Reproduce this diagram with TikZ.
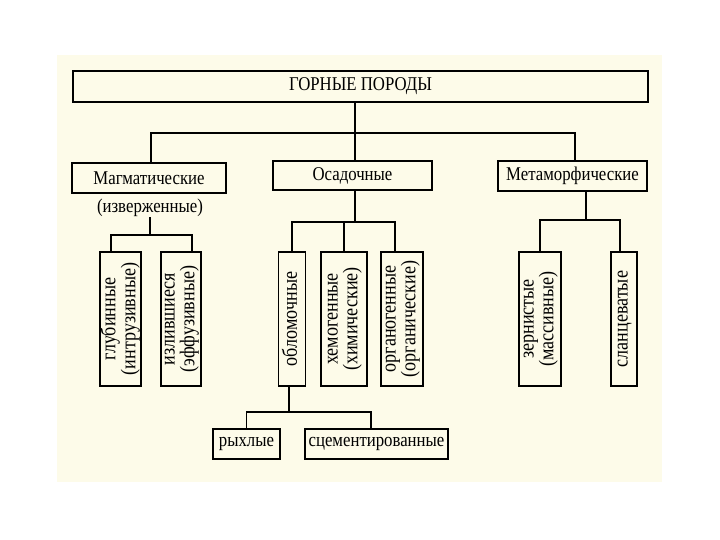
\documentclass[tikz,border=0pt]{standalone}
\usepackage{fontspec}
\setmainfont{Liberation Serif}[FakeStretch=0.86]
\usepackage{graphicx}
\definecolor{paper}{RGB}{253,251,233}
\newcommand{\vlabel}[1]{\rotatebox{90}{\begin{tabular}{@{}c@{}}#1\end{tabular}}}

\begin{document}
\begin{tikzpicture}[x=1pt,y=-1pt,
  box/.style  = {rectangle,draw=black,line width=1.6pt,inner sep=0pt,outer sep=0pt,font=\fontsize{19.5}{19}\selectfont},
  vbox/.style = {box,minimum height=134,font=\fontsize{21}{17.5}\selectfont},
  link/.style = {draw=black,line width=1.4pt}]
\useasboundingbox (0,0) rectangle (720,540);
\fill[paper] (57,55) rectangle (662,482);
% upper levels
\node[box,minimum width=575,minimum height=31] (rocks) at (360.5,86.5) {ГОРНЫЕ ПОРОДЫ};
\node[box,minimum width=154,minimum height=30] (magm)  at (149,178)    {Магматические};
\node[inner sep=0pt,font=\fontsize{19.5}{19}\selectfont] (izv) at (150,208) {(изверженные)};
\node[box,minimum width=159,minimum height=29] (osad)  at (352.5,175.5) {Осадочные};
\node[box,minimum width=149,minimum height=30] (meta)  at (572.5,176)  {Метаморфические};
% vertical boxes
\foreach \n/\x/\w/\t in {glub/120.5/41/{глубинные\\(интрузивные)},
                         izl/181/40/{излившиеся\\(эффузивные)},
                         oblom/292/27/{обломочные},
                         hemo/344/46/{хемогенные\\(химические)},
                         organ/402/42/{органогенные\\(органические)},
                         zern/540/42/{зернистые\\(массивные)},
                         slan/624/26/{сланцеватые}}
    \node[vbox,minimum width=\w] (\n) at (\x,319) {\vlabel{\t}};
% lowest level
\node[box,minimum width=67,minimum height=30]  (ryh)  at (246.5,444) {рыхлые};
\node[box,minimum width=143,minimum height=30] (scem) at (376.5,444) {сцементированные};
% connectors
\coordinate (bar0) at (355,133);
\draw[link] (rocks.south -| bar0) -- (osad.north -| bar0);
\draw[link] ([xshift=2pt]magm.north) |- (bar0) -| ([xshift=2.5pt]meta.north);
\coordinate (bar1) at (150,235);
\draw[link] (izv.south) -- (bar1);
\draw[link] ([xshift=-9.5pt]glub.north) |- (bar1) -| ([xshift=11pt]izl.north);
\coordinate (bar2) at (355,222);
\draw[link] (osad.south -| bar2) -- (bar2);
\draw[link] (oblom.north) |- (bar2) -| ([xshift=-7pt]organ.north);
\draw[link] (hemo.north) -- (hemo.north |- bar2);
\coordinate (bar3) at (289,412);
\draw[link] (oblom.south -| bar3) -- (bar3);
\draw[link] (ryh.north) |- (bar3) -| ([xshift=-5.5pt]scem.north);
\coordinate (bar4) at (586,220);
\draw[link] (meta.south -| bar4) -- (bar4);
\draw[link] (zern.north) |- (bar4) -| ([xshift=-4pt]slan.north);
\end{tikzpicture}
\end{document}
